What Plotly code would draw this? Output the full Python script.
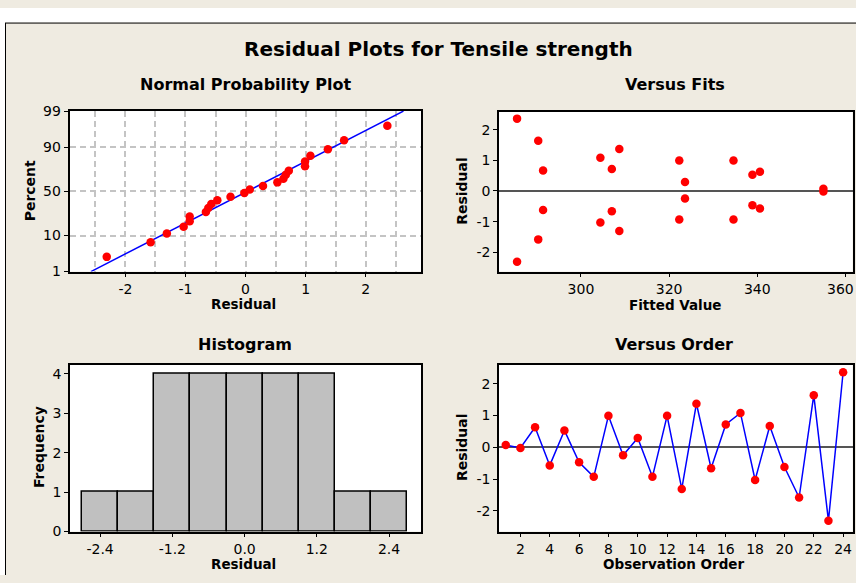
import statistics
import plotly.graph_objects as go

# Residuals in observation order and the matching fitted values
observation = list(range(1, 25))
residuals = [0.07, -0.02, 0.63, -0.57, 0.53, -0.47, -0.93, 0.99, -0.25, 0.29, -0.93, 0.99,
             -1.31, 1.37, -0.66, 0.72, 1.08, -1.03, 0.67, -0.62, -1.58, 1.64, -2.31, 2.36]
fitted = [355.0, 355.0, 340.6, 340.6, 338.9, 338.9, 334.6, 334.6, 323.6, 323.6, 322.3, 322.3,
          308.7, 308.7, 307.0, 307.0, 304.4, 304.4, 291.4, 291.4, 290.3, 290.3, 285.5, 285.5]

pct_ticks = [1, 10, 50, 90, 99]
hist_ticks = [-2.4, -1.2, 0.0, 1.2, 2.4]
order_ticks = list(range(2, 25, 2))
fit_ticks = [300, 320, 340, 360]
res_ticks = [-2, -1, 0, 1, 2]

W, H = 856, 583
BG = "#EFEBE1"
FONT = "DejaVu Sans"
nd = statistics.NormalDist()

# Normal probability scores (median ranks)
n = len(residuals)
sorted_res = sorted(residuals)
zscores = [nd.inv_cdf((i - 0.3) / (n + 0.4)) for i in range(1, n + 1)]
mu = statistics.mean(residuals)
sd = statistics.stdev(residuals)
z_lo, z_hi = nd.inv_cdf(0.01), nd.inv_cdf(0.99)


def xdom(a, b):
    return [a / W, b / W]


def ydom(top, bottom):
    return [(H - bottom) / H, (H - top) / H]


def txt(values, fmt="{}"):
    # plain hyphen for negative numbers
    return [fmt.format(v).replace("\u2212", "-") for v in values]


fig = go.Figure()

marker = dict(color="#FF0000", size=8.5, line=dict(width=0))

# Normal probability plot
fig.add_trace(go.Scatter(x=[mu + sd * z_lo, mu + sd * z_hi], y=[z_lo, z_hi], mode="lines",
                         line=dict(color="#0000FF", width=1.5), xaxis="x", yaxis="y",
                         hoverinfo="skip"))
fig.add_trace(go.Scatter(x=sorted_res, y=zscores, mode="markers", marker=marker,
                         xaxis="x", yaxis="y"))

# Versus fits
fig.add_trace(go.Scatter(x=fitted, y=residuals, mode="markers", marker=marker,
                         xaxis="x2", yaxis="y2"))

# Histogram
fig.add_trace(go.Histogram(x=residuals, xbins=dict(start=-2.7, end=2.7, size=0.6),
                           marker=dict(color="#C0C0C0", line=dict(color="black", width=1.5)),
                           xaxis="x3", yaxis="y3"))

# Versus order
fig.add_trace(go.Scatter(x=observation, y=residuals, mode="lines+markers",
                         line=dict(color="#0000FF", width=1.5), marker=marker,
                         xaxis="x4", yaxis="y4"))

tickfont = dict(family=FONT, size=14, color="black")
axis_common = dict(showline=True, linecolor="black", linewidth=1.5, mirror=True,
                   ticks="outside", ticklen=4, tickwidth=1, tickcolor="black",
                   tickfont=tickfont, showgrid=False, zeroline=False, fixedrange=True)

grid = dict(showgrid=True, gridcolor="#C4C4C4", gridwidth=1.5, griddash="6px,4px")

# last fitted-value label sits at the right edge of the page; it is drawn
# right-aligned as an annotation so it stays inside the figure
fit_text = txt(fit_ticks)
edge_text = fit_text[-1]
fit_text[-1] = ""

fig.update_layout(
    width=W, height=H, margin=dict(l=0, r=0, t=0, b=0),
    paper_bgcolor=BG, plot_bgcolor="white", showlegend=False, bargap=0,
    xaxis=dict(axis_common, domain=xdom(69.5, 421), range=[-2.93, 2.92], anchor="y",
               tickvals=res_ticks, ticktext=txt(res_ticks),
               minor=dict(dtick=0.5, tick0=0, ticks="", showgrid=True, gridcolor="#C4C4C4",
                          gridwidth=1.5, griddash="6px,4px"), **grid),
    yaxis=dict(axis_common, domain=ydom(106, 271), range=[z_lo, z_hi], anchor="x",
               tickvals=[nd.inv_cdf(p / 100) for p in pct_ticks],
               ticktext=txt(pct_ticks), **grid),
    xaxis2=dict(axis_common, domain=xdom(499, 852.5), range=[281.4, 361.6], anchor="y2",
                tickvals=fit_ticks, ticktext=fit_text),
    yaxis2=dict(axis_common, domain=ydom(106.5, 271), range=[-2.63, 2.59], anchor="x2",
                tickvals=res_ticks, ticktext=txt(res_ticks),
                zeroline=True, zerolinecolor="#555555", zerolinewidth=1.5),
    xaxis3=dict(axis_common, domain=xdom(70, 421), range=[-2.9, 2.93], anchor="y3",
                tickvals=hist_ticks, ticktext=txt(hist_ticks, "{:.1f}")),
    yaxis3=dict(axis_common, domain=ydom(366.7, 538.3), range=[0, 4.23], anchor="x3",
                tickvals=[0, 1, 2, 3, 4]),
    xaxis4=dict(axis_common, domain=xdom(499, 852.5), range=[0.54, 24.64], anchor="y4",
                tickvals=order_ticks, ticktext=txt(order_ticks)),
    yaxis4=dict(axis_common, domain=ydom(366.7, 538.3), range=[-2.65, 2.6], anchor="x4",
                tickvals=res_ticks, ticktext=txt(res_ticks),
                zeroline=True, zerolinecolor="#555555", zerolinewidth=1.5),
)

fig.add_annotation(text=edge_text, x=1, y=(H - 289) / H, xref="paper", yref="paper",
                   showarrow=False, xanchor="right", yanchor="middle",
                   font=dict(family=FONT, size=14, color="black"))

# White strip above and left of the framed panel, with its border
fig.add_shape(type="rect", xref="paper", yref="paper", x0=0, x1=1, y0=(H - 15) / H, y1=1,
              fillcolor="white", line=dict(width=0))
fig.add_shape(type="rect", xref="paper", yref="paper", x0=0, x1=5 / W, y0=0, y1=1,
              fillcolor="white", line=dict(width=0))
fig.add_shape(type="line", xref="paper", yref="paper", x0=5 / W, x1=1, y0=(H - 15.5) / H,
              y1=(H - 15.5) / H, line=dict(color="black", width=1))
fig.add_shape(type="line", xref="paper", yref="paper", x0=5.5 / W, x1=5.5 / W, y0=0,
              y1=(H - 15.5) / H, line=dict(color="black", width=1))


def label(text, x, y, size, bold=True, angle=0):
    fig.add_annotation(text=f"<b>{text}</b>" if bold else text, x=x / W, y=(H - y) / H,
                       xref="paper", yref="paper", showarrow=False, xanchor="center",
                       yanchor="middle", textangle=angle,
                       font=dict(family=FONT, size=size, color="black"))


label("Residual Plots for Tensile strength", 438, 42, 20)
label("Normal Probability Plot", 245, 79, 16)
label("Versus Fits", 675, 79, 16)
label("Histogram", 244.5, 346, 16)
label("Versus Order", 674, 346, 16)
label("Residual", 243, 304.5, 13.5)
label("Fitted Value", 675, 305, 13.5)
label("Residual", 243, 571.5, 13.5)
label("Observation Order", 674, 572, 13.5)
label("Percent", 29.5, 188, 14, angle=-90)
label("Residual", 462, 188, 14, angle=-90)
label("Frequency", 38.5, 452, 14, angle=-90)
label("Residual", 462, 451.5, 14, angle=-90)

fig.write_html("out.html")
